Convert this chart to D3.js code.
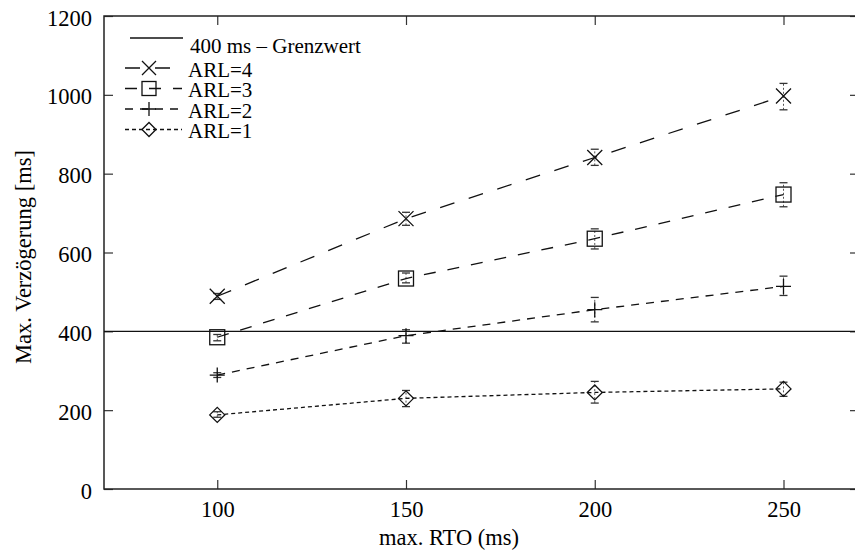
<!DOCTYPE html>
<html>
<head>
<meta charset="utf-8">
<script src="https://cdn.jsdelivr.net/npm/d3@7"></script>
<style>
  body { margin: 0; background: #fff; }
  svg { display: block; font-family: "Liberation Serif", "DejaVu Serif", serif; }
</style>
</head>
<body>
<div id="chart"></div>
<script>
// data
const rto = [100, 150, 200, 250];
const limitValue = 400;
const limitLabel = "400 ms \u2013 Grenzwert";

const arl4 = [489, 686, 841, 997];
const arl4Lo = [481, 669, 821, 962];
const arl4Hi = [496, 702, 862, 1029];

const arl3 = [385, 534, 635, 747];
const arl3Lo = [376, 523, 609, 716];
const arl3Hi = [392, 548, 660, 777];

const arl2 = [289, 389, 455, 514];
const arl2Lo = [283, 370, 424, 491];
const arl2Hi = [295, 404, 486, 540];

const arl1 = [188, 230, 245, 254];
const arl1Lo = [182, 209, 218, 235];
const arl1Hi = [196, 250, 273, 271];

const seriesNames = ["ARL=4", "ARL=3", "ARL=2", "ARL=1"];
const xTicks = [100, 150, 200, 250];
const yTicks = [0, 200, 400, 600, 800, 1000, 1200];

// series table built from the arrays
const series = [
    { name: seriesNames[0], vals: arl4, lo: arl4Lo, hi: arl4Hi, symbol: "x", dash: "15,15" },
    { name: seriesNames[1], vals: arl3, lo: arl3Lo, hi: arl3Hi, symbol: "box", dash: "12,12" },
    { name: seriesNames[2], vals: arl2, lo: arl2Lo, hi: arl2Hi, symbol: "plus", dash: "8,7" },
    { name: seriesNames[3], vals: arl1, lo: arl1Lo, hi: arl1Hi, symbol: "diamond", dash: "4,3" }
];

const W = 855, H = 550;
const plotLeft = 104, plotRight = 859, plotTop = 16, plotBottom = 489;
const ink = "#111";
const fontSize = "22.5px";
const keyFont = "21px";

const x = d3.scaleLinear([70, 270], [plotLeft, plotRight]);
const y = d3.scaleLinear([0, 1200], [plotBottom, plotTop]);

const svg = d3.select("#chart").append("svg")
    .attr("width", W)
    .attr("height", H);

// draws one point symbol
function drawSymbol(g, type, cx, cy, r) {
    if (type === "x") {
        g.append("path").attr("d", `M${cx - r},${cy - r}L${cx + r},${cy + r}M${cx - r},${cy + r}L${cx + r},${cy - r}`);
    } else if (type === "box") {
        g.append("rect").attr("x", cx - r).attr("y", cy - r).attr("width", 2 * r).attr("height", 2 * r);
    } else if (type === "plus") {
        g.append("path").attr("d", `M${cx - r},${cy}L${cx + r},${cy}M${cx},${cy - r}L${cx},${cy + r}`);
    } else {
        g.append("path").attr("d", `M${cx - r},${cy}L${cx},${cy - r}L${cx + r},${cy}L${cx},${cy + r}Z`);
    }
}

// axes with inward ticks on all four sides
const gx = svg.append("g")
    .attr("transform", `translate(0,${plotBottom})`)
    .call(d3.axisBottom(x).tickValues(xTicks).tickSize(-9).tickPadding(14).tickSizeOuter(0));
const gy = svg.append("g")
    .attr("transform", `translate(${plotLeft},0)`)
    .call(d3.axisLeft(y).tickValues(yTicks).tickFormat(d3.format("d")).tickSize(-9).tickPadding(12).tickSizeOuter(0));
const gt = svg.append("g")
    .attr("transform", `translate(0,${plotTop})`)
    .call(d3.axisTop(x).tickValues(xTicks).tickSize(-9).tickFormat("").tickSizeOuter(0));
const gr = svg.append("g")
    .attr("transform", `translate(${plotRight},0)`)
    .call(d3.axisRight(y).tickValues(yTicks).tickSize(-9).tickFormat("").tickSizeOuter(0));

[gx, gy, gt, gr].forEach(g => {
    g.select(".domain").remove();
    g.selectAll("line").attr("stroke", "#333").attr("stroke-width", 1.2);
    g.selectAll("text")
        .attr("fill", "#000")
        .style("font-family", "Liberation Serif")
        .style("font-size", fontSize);
});
gx.selectAll("text").attr("y", 12);
gy.selectAll("text").attr("dy", "0.4em");

// frame
svg.append("rect")
    .attr("x", plotLeft).attr("y", plotTop)
    .attr("width", plotRight - plotLeft).attr("height", plotBottom - plotTop)
    .attr("fill", "none")
    .attr("stroke", "#222")
    .attr("stroke-width", 1.5);

// 400 ms limit line
svg.append("line")
    .attr("x1", plotLeft).attr("x2", plotRight)
    .attr("y1", y(limitValue)).attr("y2", y(limitValue))
    .attr("stroke", ink)
    .attr("stroke-width", 1.3);

const line = d3.line().x(d => x(d[0])).y(d => y(d[1]));

// series: errorbars, lines and symbols
series.forEach(s => {
    const g = svg.append("g");
    const pts = rto.map((r, i) => [r, s.vals[i]]);

    rto.forEach((r, i) => {
        const cx = x(r);
        g.append("line")
            .attr("x1", cx).attr("x2", cx)
            .attr("y1", y(s.lo[i])).attr("y2", y(s.hi[i]))
            .attr("stroke", "#555")
            .attr("stroke-width", 1)
            .attr("stroke-dasharray", "2,2");
        [s.lo[i], s.hi[i]].forEach(v => {
            g.append("line")
                .attr("x1", cx - 4).attr("x2", cx + 4)
                .attr("y1", y(v)).attr("y2", y(v))
                .attr("stroke", "#333")
                .attr("stroke-width", 1.3);
        });
    });

    g.append("path")
        .datum(pts)
        .attr("d", line)
        .attr("fill", "none")
        .attr("stroke", ink)
        .attr("stroke-width", 1.3)
        .attr("stroke-dasharray", s.dash);

    const sym = g.append("g")
        .attr("fill", "none")
        .attr("stroke", ink)
        .attr("stroke-width", 1.3);
    pts.forEach(p => drawSymbol(sym, s.symbol, x(p[0]), y(p[1]), 7.5));
});

// legend
const legend = svg.append("g");
const keyX1 = 125, keyX2 = 182, keyMid = 149, keyText = 188;

legend.append("line")
    .attr("x1", 130).attr("x2", 183)
    .attr("y1", 38).attr("y2", 38)
    .attr("stroke", ink)
    .attr("stroke-width", 1.3);
legend.append("text")
    .attr("x", keyText + 2).attr("y", 46)
    .attr("dominant-baseline", "central")
    .style("font-size", keyFont)
    .text(limitLabel);

series.forEach((s, i) => {
    const ky = 68 + i * 20.5;
    legend.append("line")
        .attr("x1", keyX1).attr("x2", keyX2)
        .attr("y1", ky).attr("y2", ky)
        .attr("stroke", ink)
        .attr("stroke-width", 1.3)
        .attr("stroke-dasharray", s.dash);
    const sym = legend.append("g")
        .attr("fill", "none")
        .attr("stroke", ink)
        .attr("stroke-width", 1.3);
    drawSymbol(sym, s.symbol, keyMid, ky, 7);
    legend.append("text")
        .attr("x", keyText).attr("y", ky + 1.5)
        .attr("dominant-baseline", "central")
        .style("font-size", keyFont)
        .text(s.name);
});

// axis titles
svg.append("text")
    .attr("x", 449).attr("y", 545)
    .attr("text-anchor", "middle")
    .style("font-size", fontSize)
    .text("max. RTO (ms)");

svg.append("text")
    .attr("transform", "translate(31,257) rotate(-90)")
    .attr("text-anchor", "middle")
    .style("font-size", fontSize)
    .text("Max. Verzögerung [ms]");
</script>
</body>
</html>
